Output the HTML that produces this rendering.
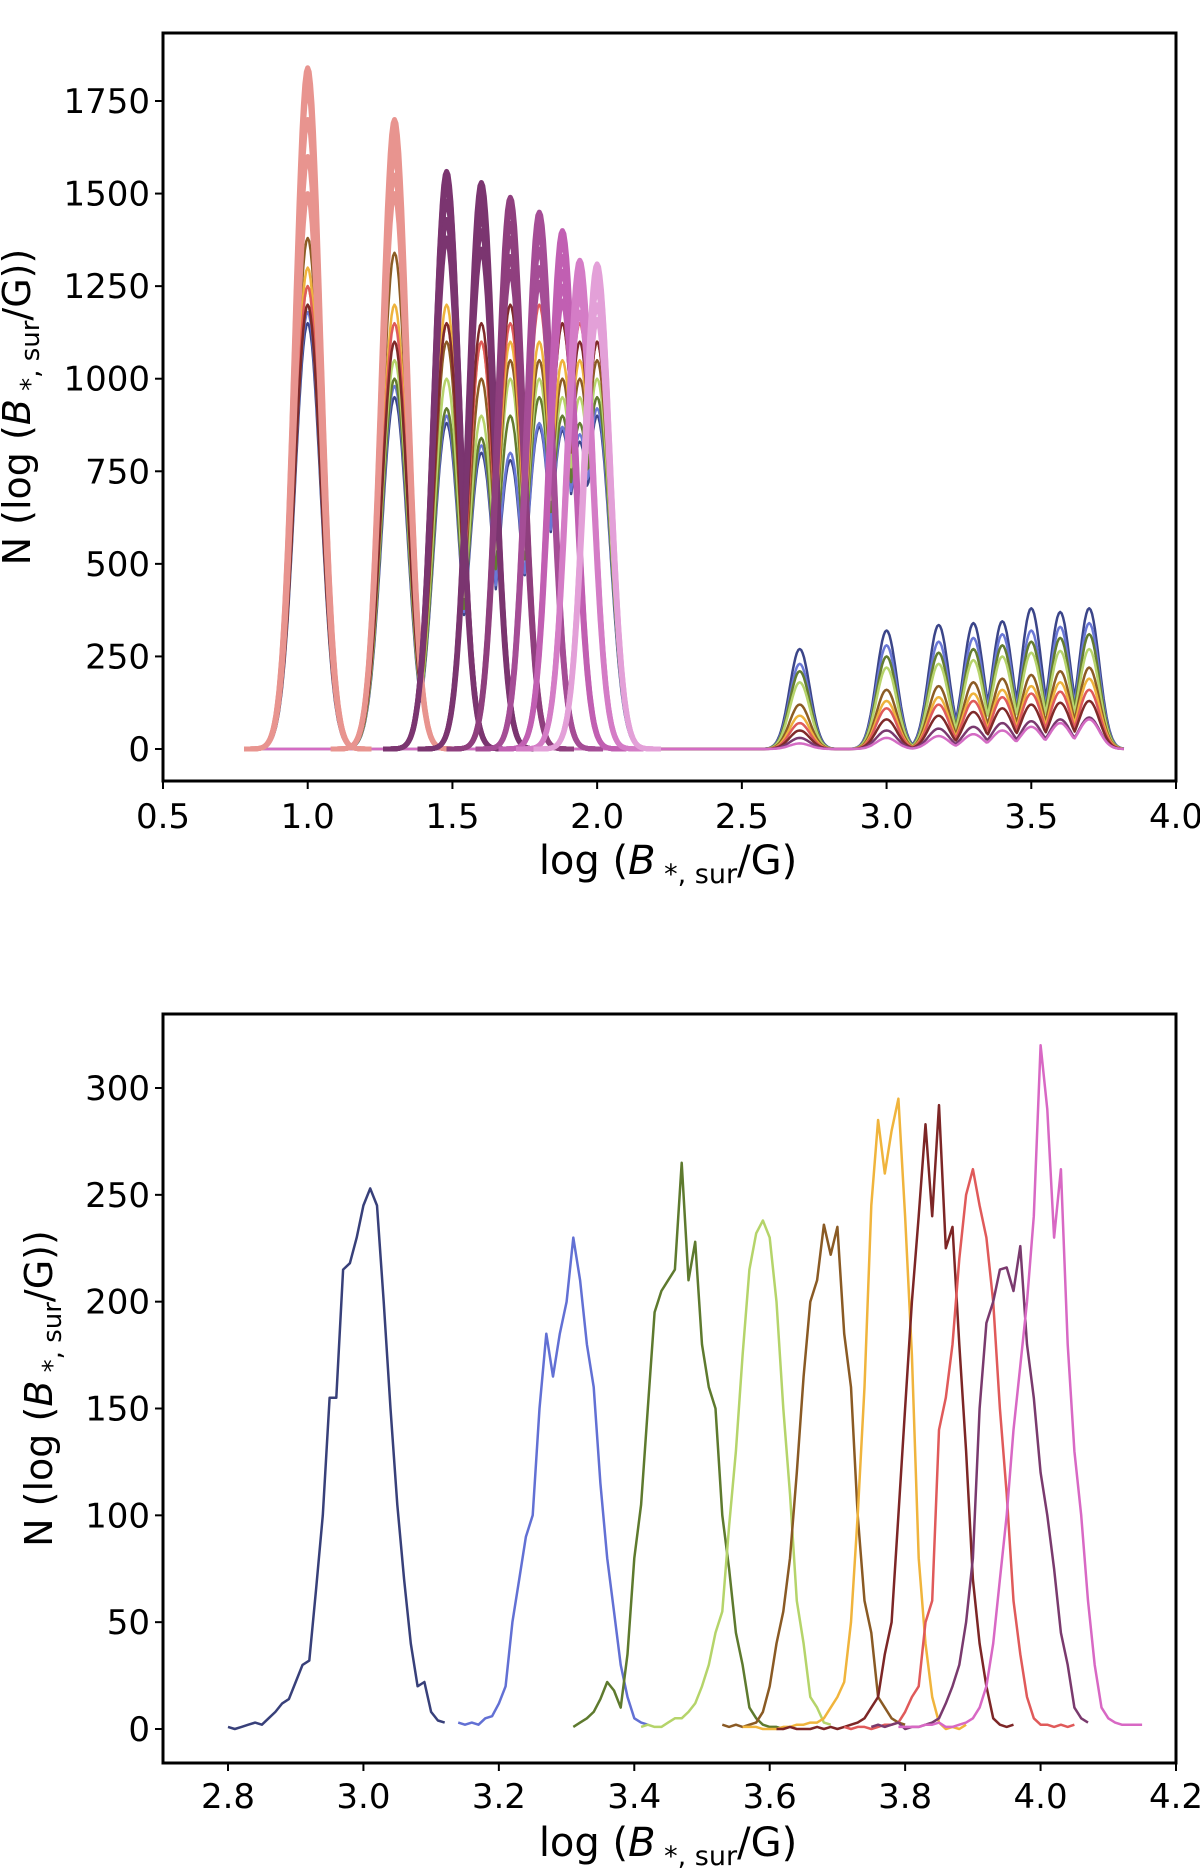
<!DOCTYPE html>
<html><head><meta charset="utf-8"><style>
html,body{margin:0;padding:0;background:#fff;}
svg{display:block;font-family:"DejaVu Sans","Liberation Sans",sans-serif;}
</style></head><body>
<svg id="chart" width="1200" height="1870" viewBox="0 0 1200 1870" xmlns="http://www.w3.org/2000/svg">
<g id="topPanel"></g>
<g id="botPanel"></g>
</svg>
<script>
// ---------- TOP PANEL DATA ----------
const topXTicks = [0.5,1.0,1.5,2.0,2.5,3.0,3.5,4.0];
const topYTicks = [0,250,500,750,1000,1250,1500,1750];
const leftCenters = [1.0,1.3,1.48,1.6,1.7,1.8,1.88,1.94,2.0];
const rightCenters = [2.7,3.0,3.18,3.3,3.4,3.5,3.6,3.7];
const bgColors = ["#3b4589","#6a78d6","#637c30","#b7d46c","#8c5c25","#eeb33d","#df5b5b","#7f2a2a","#7a3a70","#d46cc4"];
const bgLeft = [
 [1150,950,880,800,780,870,860,830,900],
 [1180,980,900,820,800,880,870,850,920],
 [1200,1000,920,840,900,950,900,880,950],
 [1250,1050,1000,900,1000,1000,950,950,1000],
 [1380,1340,1100,1000,1050,1050,1000,1000,1050],
 [1300,1200,1200,1100,1100,1100,1050,1050,1100],
 [1250,1150,1150,1100,1150,1200,1150,1150,1100],
 [1200,1100,1150,1150,1200,1250,1150,1100,1100],
 [0,0,0,0,0,0,0,0,0],
 [0,0,0,0,0,0,0,0,0]];
const bgRight = [
 [270,320,335,340,345,380,370,380],
 [230,280,290,300,310,320,330,340],
 [210,250,260,270,280,290,300,310],
 [180,220,230,240,250,260,265,270],
 [120,160,170,180,190,200,210,220],
 [90,130,140,150,160,170,180,190],
 [70,110,120,130,140,150,155,160],
 [50,80,90,100,110,120,125,130],
 [30,50,55,60,70,75,80,85],
 [15,30,35,40,50,60,70,80]];
const domColors = ["#e8948f","#e8948f","#7b3570","#7b3570","#8f3f7e","#a54d96","#c15fb2","#d47cc6","#e3a0d8"];
const domHeights = [
 [1840,1800,1780,1700,1600,1500],
 [1700,1660,1640,1600,1550,1500],
 [1560,1550,1520,1480,1430,1380],
 [1530,1500,1470,1440,1400,1350],
 [1490,1460,1420,1380,1330,1290],
 [1450,1420,1390,1350,1300,1260],
 [1400,1370,1330,1290,1250,1210],
 [1320,1300,1280,1250,1220,1180],
 [1310,1300,1270,1240,1200,1160]];

// ---------- BOTTOM PANEL DATA ----------
const botXTicks = [2.8,3.0,3.2,3.4,3.6,3.8,4.0,4.2];
const botYTicks = [0,50,100,150,200,250,300];
const botColors = ["#38407a","#6270d4","#5e7a2e","#b5d46a","#8a5a24","#f0b43c","#7d2626","#e05a5a","#7a3a6e","#d868c4"];
const botStarts = [2.80,3.14,3.31,3.41,3.53,3.56,3.61,3.71,3.75,3.79];
const botVals = [
 [1,0,1,2,3,2,5,8,12,14,22,30,32,65,100,155,155,215,218,230,245,253,245,200,150,105,70,40,20,22,8,4,3],
 [3,2,3,2,5,6,12,20,50,70,90,100,150,185,165,185,200,230,210,180,160,115,80,55,30,15,5,3,2],
 [1,3,5,8,14,22,18,10,35,80,105,150,195,205,210,215,265,210,228,180,160,150,100,75,45,30,10,5,2,1,1,0],
 [1,2,1,1,3,5,5,8,12,20,30,45,55,95,130,175,215,232,238,230,200,150,110,60,40,15,10,3,2],
 [2,1,2,1,2,3,8,20,40,55,80,120,165,200,210,236,222,235,185,160,100,60,45,15,10,5,3,2],
 [1,1,1,0,0,0,1,1,2,2,3,3,5,10,15,22,50,100,160,245,285,260,280,295,240,175,80,40,15,3,0,1,0,2],
 [0,0,1,0,0,0,1,0,1,0,1,2,3,5,10,15,35,50,100,150,200,240,283,240,292,225,235,180,130,70,40,20,5,2,1,2],
 [1,0,1,1,0,1,2,2,3,8,15,20,50,60,140,155,180,220,250,262,245,230,200,150,110,60,35,15,5,2,2,1,2,1,2],
 [1,2,1,2,3,0,1,1,2,3,5,12,20,30,50,80,150,190,200,215,216,205,226,180,155,120,100,75,45,30,10,5,3],
 [1,1,1,1,2,2,3,1,1,2,3,5,10,20,40,70,100,140,170,200,240,320,290,230,262,180,130,100,60,30,10,5,3,2,2,2,2]];

const NS="http://www.w3.org/2000/svg";
function mk(parent,tag,attrs){const e=document.createElementNS(NS,tag);for(const k in attrs)e.setAttribute(k,attrs[k]);parent.appendChild(e);return e;}

const T={l:163,r:1176,t:33,b:781};
const tx=v=>163+(v-0.5)*(1176-163)/3.5;
const ty=v=>749-v*(749-101)/1750;
const B={l:163,r:1176,t:1014,b:1763};
const bx=v=>228+(v-2.8)*(1176-228)/1.4;
const by=v=>1729-v*(1729-1088)/300;

function kernel(x,c,s){return Math.exp(-0.5*((x-c)/s)*((x-c)/s));}

const topG=document.getElementById('topPanel');
const botG=document.getElementById('botPanel');

const defs=mk(document.getElementById('chart'),'defs',{});
const cp1=mk(defs,'clipPath',{id:'c1'});mk(cp1,'rect',{x:T.l,y:T.t,width:T.r-T.l,height:T.b-T.t});
const cp2=mk(defs,'clipPath',{id:'c2'});mk(cp2,'rect',{x:B.l,y:B.t,width:B.r-B.l,height:B.b-B.t});

const topPlot=mk(topG,'g',{'clip-path':'url(#c1)'});



for(let s=0;s<bgColors.length;s++){
  let pts=[];
  for(let x=0.78;x<=3.82;x+=0.005){
    let y=0;
    leftCenters.forEach((c,i)=>{y=Math.max(y,bgLeft[s][i]*kernel(x,c,0.045));});
    rightCenters.forEach((c,i)=>{y=Math.max(y,bgRight[s][i]*kernel(x,c,0.035));});
    pts.push(tx(x).toFixed(1)+','+ty(y).toFixed(1));
  }
  const pl=mk(topPlot,'polyline',{points:pts.join(' '),fill:'none',stroke:bgColors[s],'stroke-width':2.5,'stroke-linejoin':'round'});
  
  
}
leftCenters.forEach((c,i)=>{
  domHeights[i].forEach((h,j)=>{
    let pts=[];
    for(let x=c-0.22;x<=c+0.22;x+=0.005){pts.push(tx(x).toFixed(1)+','+ty(h*kernel(x,c,0.045)).toFixed(1));}
    const pl=mk(topPlot,'polyline',{points:pts.join(' '),fill:'none',stroke:domColors[i],'stroke-width':5,'stroke-linejoin':'round'});
    
    
  });
});

const botPlot=mk(botG,'g',{'clip-path':'url(#c2)'});


botVals.forEach((vals,s)=>{
  const pts=vals.map((v,i)=>bx(botStarts[s]+i*0.01).toFixed(1)+','+by(v).toFixed(1));
  const pl=mk(botPlot,'polyline',{points:pts.join(' '),fill:'none',stroke:botColors[s],'stroke-width':2.5,'stroke-linejoin':'round'});
  
  
});

function axes(g,R,xt,yt,fx,fy,xdec,ylabX,xlabY,xTitleY,yTitleX){
  const fr=mk(g,'rect',{x:R.l,y:R.t,width:R.r-R.l,height:R.b-R.t,fill:'none',stroke:'#000','stroke-width':3});
  
  
  xt.forEach(v=>{
    const X=fx(v);
    mk(g,'line',{x1:X,x2:X,y1:R.b,y2:R.b+8,stroke:'#000','stroke-width':2});
    const t=mk(g,'text',{x:X,y:xlabY,'font-size':34,'text-anchor':'middle'});
    t.textContent=v.toFixed(xdec);
    
    
  });
  yt.forEach(v=>{
    const Y=fy(v);
    mk(g,'line',{x1:R.l-8,x2:R.l,y1:Y,y2:Y,stroke:'#000','stroke-width':2});
    const t=mk(g,'text',{x:ylabX,y:Y+12,'font-size':34,'text-anchor':'end'});
    t.textContent=String(v);
    
    
  });
  const xl=mk(g,'text',{x:668,y:xTitleY,'font-size':40,'text-anchor':'middle'});
  xl.innerHTML='log (<tspan font-style="italic">B</tspan><tspan font-size="27" dy="9"> *, sur</tspan><tspan dy="-9">/G)</tspan>';
  
  
  const cy=(R.t+R.b)/2;
  const yl=mk(g,'text',{x:yTitleX,y:cy,'font-size':38,'text-anchor':'middle',transform:'rotate(-90 '+yTitleX+' '+cy+')'});
  yl.innerHTML='N (log (<tspan font-style="italic">B</tspan><tspan font-size="26" dy="9"> *, sur</tspan><tspan dy="-9">/G))</tspan>';
  
  
}
axes(topG,T,topXTicks,topYTicks,tx,ty,1,150,828,874,30);
axes(botG,B,botXTicks,botYTicks,bx,by,1,150,1808,1856,52);
</script>
</body></html>
